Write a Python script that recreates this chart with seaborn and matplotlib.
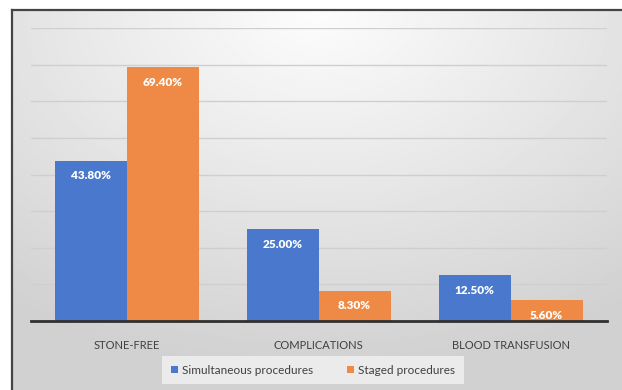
import numpy as np
import pandas as pd
import matplotlib
matplotlib.use("Agg")
import matplotlib.pyplot as plt
import seaborn as sns
from matplotlib.patches import Patch

categories = ["STONE-FREE", "COMPLICATIONS", "BLOOD TRANSFUSION"]
simultaneous = [43.8, 25.0, 12.5]
staged = [69.4, 8.3, 5.6]
series_names = ["Simultaneous procedures", "Staged procedures"]
colors = ["#4A78CC", "#EE8A45"]

df = pd.DataFrame({
    "category": categories * 2,
    "value": simultaneous + staged,
    "series": [series_names[0]] * 3 + [series_names[1]] * 3,
})

sns.set_theme(style="white")
plt.rcParams["font.family"] = ["Lato", "DejaVu Sans"]

W, H = 622, 390
fig = plt.figure(figsize=(W / 100, H / 100), dpi=100)
fig.patch.set_facecolor("white")

# background panel with gradient
bg = fig.add_axes([12 / W, 0, (W - 12) / W, 1 - 10 / H])
yy, xx = np.mgrid[0:1:200j, 0:1:300j]
d = np.sqrt(((xx - 0.5) * 1.0) ** 2 + ((yy - 0.0) * 0.9) ** 2)
d = np.clip(d / 0.85, 0, 1)
img = 0.99 - 0.17 * d
bg.imshow(img, cmap="gray", vmin=0, vmax=1, aspect="auto",
          extent=[0, 1, 1, 0], interpolation="bilinear")
bg.set_xlim(0, 1)
bg.set_ylim(1, 0)
bg.set_xticks([])
bg.set_yticks([])
for s in ["right", "bottom"]:
    bg.spines[s].set_visible(False)
for s in ["left", "top"]:
    bg.spines[s].set_color("#444444")
    bg.spines[s].set_linewidth(1.6)

ax = fig.add_axes([30.5 / W, 1 - 321 / H, 576 / W, (321 - 28) / H])
ax.patch.set_alpha(0)
sns.barplot(data=df, x="category", y="value", hue="series", palette=colors,
            saturation=1, width=0.75, gap=0, linewidth=0, ax=ax, legend=False,
            errorbar=None)
ax.set_ylim(0, 80)
ax.set_xlim(-0.5, 2.5)
ax.set_yticks(np.arange(10, 81, 10))
ax.yaxis.grid(True, color="#cfcfcf", linewidth=1.0)
ax.set_axisbelow(True)
ax.set_yticklabels([])
ax.tick_params(axis="y", length=0)
ax.tick_params(axis="x", length=0, pad=14, labelsize=8, labelcolor="#404040")
ax.set_xlabel("")
ax.set_ylabel("")
for s in ["left", "right", "top"]:
    ax.spines[s].set_visible(False)
ax.spines["bottom"].set_color("#303030")
ax.spines["bottom"].set_linewidth(2)

for cont, vals in zip(ax.containers, [simultaneous, staged]):
    ax.bar_label(cont, labels=[f"{v:.2f}%" for v in vals], padding=-15,
                 color="white", fontweight="heavy", fontsize=8.5)

handles = [Patch(facecolor=c, edgecolor="none", label=n) for c, n in zip(colors, series_names)]
leg = fig.legend(handles=handles, loc="center", bbox_to_anchor=(313 / W, 1 - 370 / H),
                 ncol=2, frameon=True, fontsize=8.5, handlelength=0.6, handleheight=0.6,
                 handletextpad=0.4, columnspacing=2.8, borderpad=0.7, borderaxespad=0,
                 fancybox=False)
leg.get_frame().set_facecolor("#ebebeb")
leg.get_frame().set_edgecolor("none")
leg.get_frame().set_alpha(1)
for t in leg.get_texts():
    t.set_color("#404040")

fig.savefig("out.png", dpi=100)
